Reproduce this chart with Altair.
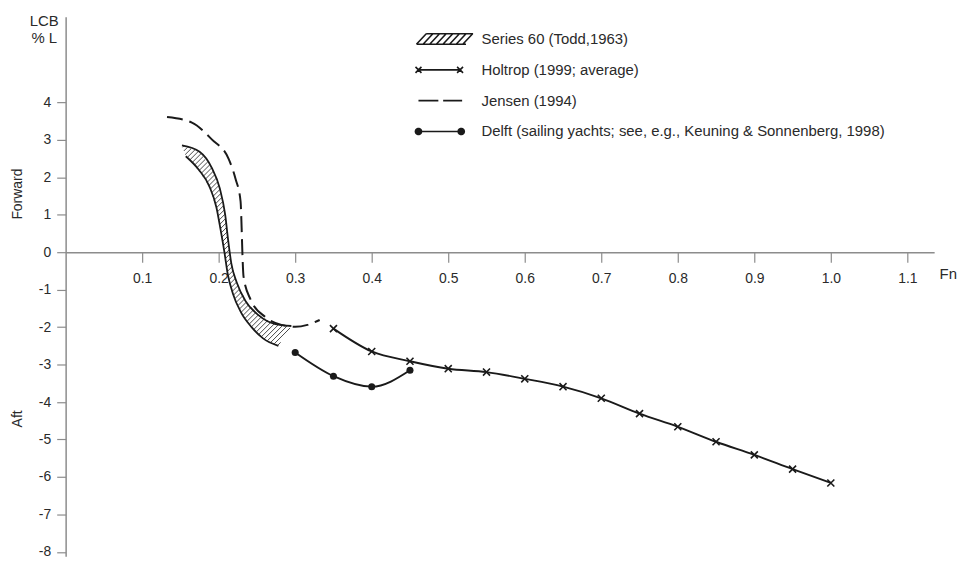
import altair as alt
import numpy as np
import pandas as pd

# ---------------- data (Fn, LCB in % L) ----------------
holtrop_fn = [0.35, 0.40, 0.45, 0.50, 0.55, 0.60, 0.65, 0.70, 0.75, 0.80, 0.85, 0.90, 0.95, 1.00]
holtrop_lcb = [-2.04, -2.65, -2.91, -3.11, -3.20, -3.38, -3.59, -3.90, -4.31, -4.66, -5.06, -5.41, -5.79, -6.16]

delft_fn = [0.30, 0.35, 0.40, 0.45]
delft_lcb = [-2.68, -3.31, -3.59, -3.15]

jensen_fn = [0.1325, 0.165, 0.191, 0.213, 0.222, 0.2286, 0.230, 0.231, 0.2325, 0.2416, 0.261, 0.282, 0.300, 0.316, 0.332]
jensen_lcb = [3.61, 3.46, 3.01, 2.49, 1.96, 1.36, 0.65, -0.03, -0.65, -1.26, -1.73, -1.94, -1.99, -1.94, -1.81]

# Series 60 band: outer (left / lower) and inner (right / upper) boundary
s60_outer_fn = [0.157, 0.174, 0.188, 0.197, 0.2025, 0.2075, 0.212, 0.2185, 0.229, 0.243, 0.258, 0.278]
s60_outer_lcb = [2.56, 2.20, 1.75, 1.20, 0.60, 0.00, -0.60, -1.10, -1.60, -2.00, -2.30, -2.50]
s60_inner_fn = [0.152, 0.175, 0.191, 0.2015, 0.2085, 0.2125, 0.2165, 0.2235, 0.235, 0.252, 0.274, 0.295]
s60_inner_lcb = [2.85, 2.68, 2.25, 1.70, 1.00, 0.30, -0.30, -0.80, -1.30, -1.68, -1.92, -1.97]

x_ticks = [0.1, 0.2, 0.3, 0.4, 0.5, 0.6, 0.7, 0.8, 0.9, 1.0, 1.1]
y_ticks = [-8, -7, -6, -5, -4, -3, -2, -1, 0, 1, 2, 3, 4]

series_names = [
    "Series 60 (Todd,1963)",
    "Holtrop (1999; average)",
    "Jensen (1994)",
    "Delft (sailing yachts; see, e.g., Keuning & Sonnenberg, 1998)",
]
side_labels = ["Forward", "Aft"]
side_label_lcb = [1.55, -4.45]

# ---------------- layout / style ----------------
W, H = 874, 543
X_MIN, X_MAX = 0.0, 1.135
Y_MIN, Y_MAX = -8.117, 6.2865
INK = "#1a1a1a"
GREY = "#8c8c8c"
TXT = "#2a2a2a"
FONT = "Liberation Sans"

sx = W / (X_MAX - X_MIN)
sy = H / (Y_MAX - Y_MIN)
x_axis_offset = round((Y_MAX - 0.0) * sy - H)


def hatch(outer_x, outer_y, inner_x, inner_y, step=5.0):
    """45 degree hatching clipped to the band polygon (computed in pixel space)."""
    pts = list(zip(outer_x, outer_y)) + list(zip(inner_x, inner_y))[::-1]
    P = np.array([[(x - X_MIN) * sx, (Y_MAX - y) * sy] for x, y in pts])
    n = len(P)
    s = P[:, 0] + P[:, 1]
    rows = []
    for c in np.arange(s.min() + step / 2, s.max(), step):
        cross = []
        for i in range(n):
            a, b = P[i], P[(i + 1) % n]
            fa, fb = a.sum() - c, b.sum() - c
            if (fa < 0) != (fb < 0):
                t = fa / (fa - fb)
                cross.append(a + t * (b - a))
        cross.sort(key=lambda p: p[0])
        for j in range(0, len(cross) - 1, 2):
            p, q = cross[j], cross[j + 1]
            rows.append({
                "fn": p[0] / sx + X_MIN, "lcb": Y_MAX - p[1] / sy,
                "fn2": q[0] / sx + X_MIN, "lcb2": Y_MAX - q[1] / sy,
            })
    return pd.DataFrame(rows)


df_hatch = hatch(s60_outer_fn, s60_outer_lcb, s60_inner_fn, s60_inner_lcb)
df_band = pd.concat([
    pd.DataFrame({"fn": s60_outer_fn, "lcb": s60_outer_lcb, "edge": "outer", "i": range(len(s60_outer_fn))}),
    pd.DataFrame({"fn": s60_inner_fn, "lcb": s60_inner_lcb, "edge": "inner", "i": range(len(s60_inner_fn))}),
])
df_jensen = pd.DataFrame({"fn": jensen_fn, "lcb": jensen_lcb, "i": range(len(jensen_fn))})
df_holtrop = pd.DataFrame({"fn": holtrop_fn, "lcb": holtrop_lcb, "i": range(len(holtrop_fn))})
df_delft = pd.DataFrame({"fn": delft_fn, "lcb": delft_lcb, "i": range(len(delft_fn))})
df_side = pd.DataFrame({"label": side_labels, "lcb": side_label_lcb})
df_legend = pd.DataFrame({"series": series_names})

# ---------------- scales & axes ----------------
xscale = alt.Scale(domain=[X_MIN, X_MAX], nice=False, zero=False)
yscale = alt.Scale(domain=[Y_MIN, Y_MAX], nice=False, zero=False)

x_axis = alt.Axis(
    values=x_ticks, labelExpr="format(datum.value, '.1f')", offset=x_axis_offset,
    title="Fn", titleX=879, titleY=21, titleAlign="left", titleBaseline="middle", titleAngle=0,
    titleFont=FONT, titleFontSize=15, titleFontWeight="normal", titleColor=TXT,
    grid=False, domainColor=GREY, domainWidth=1.5, tickColor=GREY, tickWidth=1.2, tickSize=10,
    labelPadding=10, labelFont=FONT, labelFontSize=14, labelColor=TXT, labelOverlap=False,
)
y_axis = alt.Axis(
    values=y_ticks, labelExpr="datum.value + ''",
    title=["LCB", "% L"], titleX=-22, titleY=-3, titleAlign="center", titleBaseline="top", titleAngle=0,
    titleFont=FONT, titleFontSize=15, titleFontWeight="normal", titleColor=TXT, titleLineHeight=17.5,
    grid=False, domainColor=GREY, domainWidth=1.5, tickColor=GREY, tickWidth=1.2, tickSize=9,
    labelPadding=6, labelFont=FONT, labelFontSize=14, labelColor=TXT, labelOverlap=False,
)
X = alt.X("fn:Q", scale=xscale, axis=x_axis)
Y = alt.Y("lcb:Q", scale=yscale, axis=y_axis)

# ---------------- legend symbols (custom paths, 1 unit = 11.5 px) ----------------
def ring_path(cx, radii, n=14):
    out = ""
    for r in radii:
        pts = [(cx + r * np.cos(2 * np.pi * k / n), r * np.sin(2 * np.pi * k / n)) for k in range(n)]
        out += "M" + "L".join(f"{x:.3f},{y:.3f}" for x, y in pts) + "Z"
    return out

p_series60 = "M-2,0.46L2.34,0.46M-1.14,-0.46L2.96,-0.46" + "".join(
    f"M{-2 + 0.58 * k:.3f},0.46L{-1.14 + 0.58 * k:.3f},-0.46" for k in range(8))
p_holtrop = ("M-1.82,0L1.82,0"
             "M-2.08,-0.26L-1.56,0.26M-2.08,0.26L-1.56,-0.26"
             "M1.56,-0.26L2.08,0.26M1.56,0.26L2.08,-0.26")
p_jensen = "M-1.82,0L-0.08,0M0.34,0L2,0"
p_delft = "M-1.82,0L1.92,0" + ring_path(-1.82, [0.27, 0.15, 0.04]) + ring_path(1.92, [0.27, 0.15, 0.04])
legend_paths = [p_series60, p_holtrop, p_jensen, p_delft]

# ---------------- layers ----------------
hatch_layer = alt.Chart(df_hatch).mark_rule(color=INK, strokeWidth=0.8).encode(
    x=X, y=Y, x2="fn2:Q", y2="lcb2:Q")

band_layer = alt.Chart(df_band).mark_line(color=INK, strokeWidth=1.8, interpolate="monotone").encode(
    x=X, y=Y, detail="edge:N", order="i:Q")

jensen_layer = alt.Chart(df_jensen).mark_line(
    color=INK, strokeWidth=2, strokeDash=[16, 7], interpolate="monotone").encode(x=X, y=Y, order="i:Q")

holtrop_line = alt.Chart(df_holtrop).mark_line(color=INK, strokeWidth=1.9, interpolate="monotone").encode(
    x=X, y=Y, order="i:Q")
holtrop_pts = alt.Chart(df_holtrop).mark_point(
    shape="M-1,-1L1,1M-1,1L1,-1", size=50, filled=False, color=INK, strokeWidth=1.6, opacity=1).encode(x=X, y=Y)

delft_line = alt.Chart(df_delft).mark_line(color=INK, strokeWidth=1.9, interpolate="monotone").encode(
    x=X, y=Y, order="i:Q")
delft_pts = alt.Chart(df_delft).mark_point(
    shape="circle", size=50, filled=True, color=INK, opacity=1).encode(x=X, y=Y)

side_layer = alt.Chart(df_side).mark_text(
    angle=270, font=FONT, fontSize=14, color=TXT, align="center", baseline="middle").encode(
    x=alt.value(-48), y=Y, text="label:N")

legend_layer = alt.Chart(df_legend).mark_point(
    opacity=0, filled=False, color=INK, strokeWidth=1.6).encode(
    shape=alt.Shape(
        "series:N",
        scale=alt.Scale(domain=series_names, range=legend_paths),
        legend=alt.Legend(
            orient="none", legendX=352, legendY=10, title=None, padding=0,
            symbolSize=529, symbolOffset=11.5, symbolStrokeWidth=1.6,
            symbolFillColor=INK, symbolStrokeColor=INK,
            symbolOpacity=1, labelFont=FONT, labelFontSize=15, labelColor=TXT, labelOffset=30,
            labelLimit=700, rowPadding=10,
        ),
    )
)

chart = alt.layer(
    hatch_layer, band_layer, jensen_layer, holtrop_line, holtrop_pts,
    delft_line, delft_pts, side_layer, legend_layer,
).properties(
    width=W, height=H,
    autosize=alt.AutoSizeParams(type="none"),
    padding={"left": 58, "top": 7, "right": 23, "bottom": 0},
    background="white",
).configure_view(stroke="transparent")

chart.save("out.html", embed_options={"renderer": "svg", "actions": False})
